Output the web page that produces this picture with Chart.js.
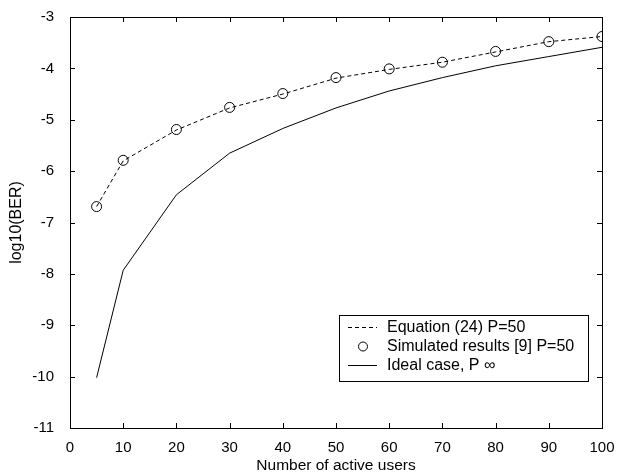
<!DOCTYPE html>
<html lang="en">
<head>
  <meta charset="UTF-8">
  <title>log10(BER) vs active users</title>
  <script src="https://cdn.jsdelivr.net/npm/chart.js"></script>
  <style>
    html, body { margin: 0; padding: 0; background: #fff; }
    #wrap { width: 638px; height: 476px; }
  </style>
</head>
<body>
  <div id="wrap"><canvas id="c" width="638" height="476"></canvas></div>
  <script>
    // data
    const users = [5, 10, 20, 30, 40, 50, 60, 70, 80, 90, 100];
    const equation = [-6.69, -5.8, -5.2, -4.77, -4.5, -4.19, -4.02, -3.88, -3.68, -3.48, -3.38];
    const simulated = [-6.69, -5.79, -5.19, -4.76, -4.49, -4.18, -4.01, -3.88, -3.67, -3.48, -3.38];
    const ideal = [-10.02, -7.93, -6.46, -5.65, -5.17, -4.77, -4.44, -4.18, -3.95, -3.77, -3.59];
    const labels = ['Equation (24) P=50', 'Simulated results [9] P=50', 'Ideal case, P \u221E'];

    const FONT = '"Liberation Sans", Arial, sans-serif';
    const pts = (ys) => users.map((u, i) => ({ x: u, y: ys[i] }));

    // box + inward tick marks like the matlab figure, legend drawn inside
    const framePlugin = {
      id: 'frame',
      afterDraw(chart) {
        const { ctx, chartArea: a, scales } = chart;
        ctx.save();
        ctx.strokeStyle = '#000';
        ctx.lineWidth = 1;
        ctx.strokeRect(a.left + 0.5, a.top + 0.5, a.right - a.left, a.bottom - a.top);
        const len = 5;
        ctx.beginPath();
        scales.x.ticks.forEach(t => {
          const px = Math.round(scales.x.getPixelForValue(t.value)) + 0.5;
          ctx.moveTo(px, a.bottom); ctx.lineTo(px, a.bottom - len);
          ctx.moveTo(px, a.top); ctx.lineTo(px, a.top + len);
        });
        scales.y.ticks.forEach(t => {
          const py = Math.round(scales.y.getPixelForValue(t.value)) + 0.5;
          ctx.moveTo(a.left, py); ctx.lineTo(a.left + len, py);
          ctx.moveTo(a.right, py); ctx.lineTo(a.right - len, py);
        });
        ctx.stroke();

        // legend box
        const bx = 339, by = 315, bw = 249, bh = 66;
        ctx.fillStyle = '#fff';
        ctx.fillRect(bx, by, bw, bh);
        ctx.strokeRect(bx + 0.5, by + 0.5, bw, bh);
        ctx.font = '16px ' + FONT;
        ctx.fillStyle = '#000';
        ctx.textBaseline = 'middle';
        const rows = [327, 346, 365];
        rows.forEach((ry, i) => {
          ctx.beginPath();
          if (i === 0) {
            ctx.setLineDash([4, 3]);
            ctx.moveTo(348, ry + 0.5); ctx.lineTo(377, ry + 0.5);
            ctx.stroke();
            ctx.setLineDash([]);
          } else if (i === 1) {
            ctx.arc(363, ry + 0.5, 4.5, 0, Math.PI * 2);
            ctx.stroke();
          } else {
            ctx.moveTo(348, ry + 0.5); ctx.lineTo(377, ry + 0.5);
            ctx.stroke();
          }
          ctx.fillText(labels[i], 387, ry + 1);
        });
        ctx.restore();
      }
    };

    new Chart(document.getElementById('c'), {
      type: 'line',
      data: {
        datasets: [
          {
            label: labels[0], data: pts(equation),
            borderColor: '#000', borderWidth: 1, borderDash: [4, 3],
            pointRadius: 0, fill: false, tension: 0
          },
          {
            label: labels[1], data: pts(simulated), showLine: false,
            borderColor: '#000', borderWidth: 1, backgroundColor: 'rgba(0,0,0,0)',
            pointStyle: 'circle', pointRadius: 5
          },
          {
            label: labels[2], data: pts(ideal),
            borderColor: '#000', borderWidth: 1,
            pointRadius: 0, fill: false, tension: 0
          }
        ]
      },
      options: {
        responsive: false,
        animation: false,
        layout: { padding: { top: 10, right: 36, left: 0, bottom: 0 } },
        plugins: { legend: { display: false }, tooltip: { enabled: false } },
        scales: {
          x: {
            type: 'linear', min: 0, max: 100,
            grid: { display: false }, border: { display: false },
            ticks: { stepSize: 10, color: '#000', padding: 3, maxRotation: 0, font: { family: FONT, size: 15 } },
            title: { display: true, text: 'Number of active users', color: '#000', padding: { top: 2, bottom: 1 }, font: { family: FONT, size: 15.5 } },
            afterFit: s => { s.height = 48; }
          },
          y: {
            type: 'linear', min: -11, max: -3,
            grid: { display: false }, border: { display: false },
            ticks: { stepSize: 1, color: '#000', padding: 8, font: { family: FONT, size: 15 } },
            title: { display: true, text: 'log10(BER)', color: '#000', padding: { top: 7, bottom: 2 }, font: { family: FONT, size: 16 } },
            afterFit: s => { s.width = 70; }
          }
        }
      },
      plugins: [framePlugin]
    });
  </script>
</body>
</html>
